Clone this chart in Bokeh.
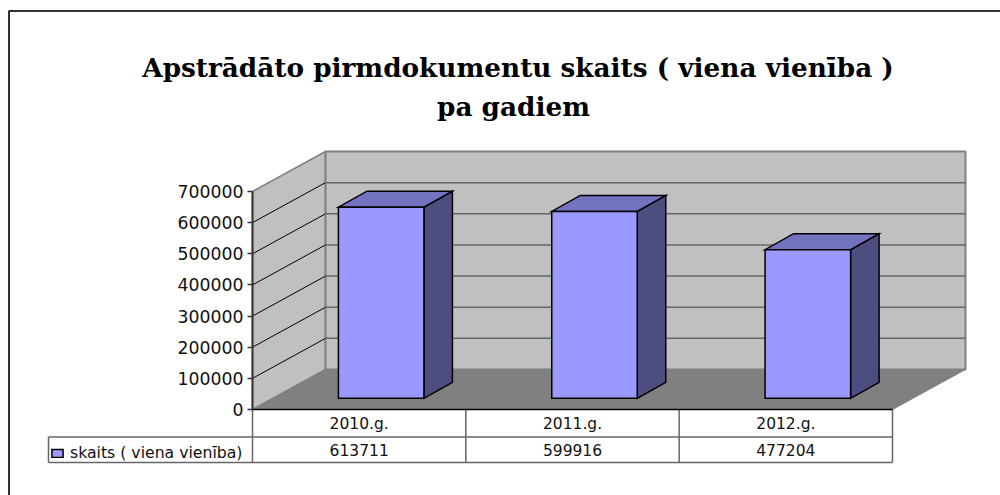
from bokeh.plotting import figure
from bokeh.embed import file_html
from bokeh.resources import INLINE
from bokeh.core.properties import value
from bokeh.models import (ColumnDataSource, Range1d, LinearAxis, FixedTicker, Legend, LegendItem)

# ---- data ----
years = ["2010.g.", "2011.g.", "2012.g."]
counts = [613711, 599916, 477204]
series_name = "skaits ( viena vienība)"
title_lines = ["Apstrādāto pirmdokumentu skaits ( viena vienība )", "pa gadiem"]
y_ticks = [0, 100000, 200000, 300000, 400000, 500000, 600000, 700000]

# ---- layout (page pixels) ----
W, H = 1000, 495
PAGE = 0
ORIGIN_X, ORIGIN_Y = 252, 409      # front-left corner of the floor
SLOT = 640 / 3                     # pixels per category
YMAX = 700000
Y_PX = 218                         # pixels for YMAX
DEPTH_X, DEPTH_Y = 73, 40          # floor depth
BAR_W, BAR_OFF = 85.5, 22
BAR_LIFT = 11.2
BAR_DX, BAR_DY = 28.5, 16
ROW1, ROW2 = 436.5, 462
TABLE_L = 48

ux = lambda px: px / SLOT
uy = lambda px: px * YMAX / Y_PX
X = lambda px: ux(px - ORIGIN_X)
Y = lambda px: uy(ORIGIN_Y - px)

p = figure(width=W, height=H, output_backend="svg", toolbar_location=None,
           x_range=Range1d(X(PAGE), X(PAGE + W)), y_range=Range1d(Y(PAGE + H), Y(PAGE)),
           min_border=0, min_border_left=0, min_border_right=0, min_border_top=0, min_border_bottom=0,
           x_axis_location=None, y_axis_location=None, outline_line_color=None)
p.grid.visible = False
p.background_fill_color = "white"
p.border_fill_color = "white"

n = len(years)
dx, dy = ux(DEPTH_X), uy(DEPTH_Y)

# outer chart frame (left and top edges)
p.line([X(8.5), X(8.5), X(PAGE + W)], [Y(PAGE + H), Y(10.5), Y(10.5)], line_color="#333333", line_width=2)

# walls and floor
p.patch([0, dx, dx, 0], [0, dy, YMAX + dy, YMAX], fill_color="#C0C0C0", line_color="#808080", line_width=1.5)
p.patch([dx, n + dx, n + dx, dx], [dy, dy, YMAX + dy, YMAX + dy], fill_color="#C0C0C0", line_color="#808080", line_width=2)
p.patch([0, n, n + dx, dx], [0, 0, dy, dy], fill_color="#808080", line_color="#808080", line_width=1)

# gridlines
gt = y_ticks[1:-1]
p.segment([0] * len(gt), gt, [dx] * len(gt), [t + dy for t in gt], line_color="black", line_width=1)
p.segment([dx] * len(gt), [t + dy for t in gt], [n + dx] * len(gt), [t + dy for t in gt], line_color="#666666", line_width=1.5)

# bars
base = uy(BAR_LIFT)
bw, bdx, bdy, off = ux(BAR_W), ux(BAR_DX), uy(BAR_DY), ux(BAR_OFF)
fx, fy, tx, ty, sx, sy = [], [], [], [], [], []
for i, v in enumerate(counts):
    l = i + 0.5 + off - bw / 2
    r = l + bw
    t = base + v
    fx.append([l, r, r, l]); fy.append([base, base, t, t])
    tx.append([l, r, r + bdx, l + bdx]); ty.append([t, t, t + bdy, t + bdy])
    sx.append([r, r + bdx, r + bdx, r]); sy.append([base, base + bdy, t + bdy, t])
p.patches(sx, sy, fill_color="#4D4D80", line_color="black", line_width=1.5, line_join="miter")
p.patches(tx, ty, fill_color="#7373BF", line_color="black", line_width=1.5, line_join="miter")
front = p.patches(fx, fy, fill_color="#9999FF", line_color="black", line_width=1.5, line_join="miter")

# value axis
yax = LinearAxis(fixed_location=0, ticker=FixedTicker(ticks=y_ticks))
yax.major_tick_out = 5; yax.major_tick_in = 0; yax.minor_tick_out = 0; yax.minor_tick_in = 0
yax.major_tick_line_color = "#333333"; yax.major_tick_line_width = 1.5
yax.axis_line_color = "#333333"; yax.axis_line_width = 2
yax.major_label_text_font = "DejaVu Sans"; yax.major_label_text_font_size = "17.3px"
yax.major_label_text_color = "#111111"; yax.major_label_standoff = 4
yax.formatter.use_scientific = False
yax.bounds = (0, YMAX)
p.add_layout(yax, "left")

# data table
p.segment([X(TABLE_L), 0], [Y(ROW2), Y(ROW1)], [n, n], [Y(ROW2), Y(ROW1)], line_color="#666666", line_width=1.5)
p.segment(list(range(n + 1)), [Y(ROW2)] * (n + 1), list(range(n + 1)), [0] * (n + 1), line_color="#666666", line_width=1.5)
p.segment([X(TABLE_L)], [Y(ROW2)], [X(TABLE_L)], [Y(ROW1)], line_color="#666666", line_width=1.5)
p.segment([X(TABLE_L)], [Y(ROW1)], [0], [Y(ROW1)], line_color="#666666", line_width=1.5)
p.segment([0], [0], [n], [0], line_color="black", line_width=1.5)

src = ColumnDataSource(dict(x=[i + 0.5 for i in range(n)], year=years, val=[str(v) for v in counts],
                            y1=[Y((409 + ROW1) / 2 + 0.7)] * n, y2=[Y((ROW1 + ROW2) / 2)] * n))
p.text("x", "y1", text="year", source=src, text_align="center", text_baseline="middle",
       text_font=value("DejaVu Sans"), text_font_size="15.5px", text_color="#111111")
p.text("x", "y2", text="val", source=src, text_align="center", text_baseline="middle",
       text_font=value("DejaVu Sans"), text_font_size="15.5px", text_color="#111111")

# legend key in the table
leg = Legend(items=[LegendItem(label=series_name, renderers=[front])], location=(50, 33),
             orientation="horizontal", border_line_color=None, background_fill_color=None,
             padding=6, margin=0, glyph_width=14, glyph_height=10, label_standoff=6,
             label_text_font="DejaVu Sans", label_text_font_size="15.7px", label_text_color="#111111",
             click_policy="none")
p.add_layout(leg)

# title
p.text([X(517.5)], [Y(67)], text=[title_lines[0]], text_align="center", text_baseline="middle",
       text_font=value("DejaVu Serif"), text_font_style="bold", text_font_size="26.3px", text_color="black")
p.text([X(513)], [Y(106)], text=[title_lines[1]], text_align="center", text_baseline="middle",
       text_font=value("DejaVu Serif"), text_font_style="bold", text_font_size="26.3px", text_color="black")

open("out.html", "w").write(file_html(p, INLINE))
